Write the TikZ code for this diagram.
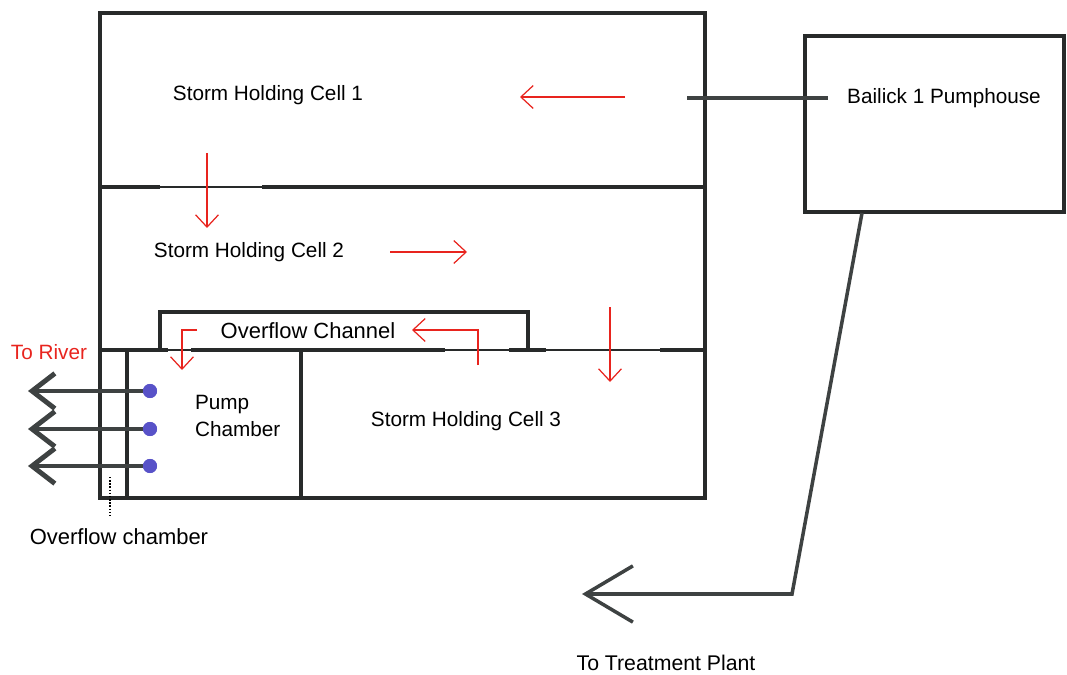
\documentclass[tikz,border=0pt]{standalone}
\usepackage{fontspec}
\setmainfont{Liberation Sans}
\usepackage{tikz}
\usetikzlibrary{arrows.meta, positioning}
\definecolor{wallgray}{RGB}{40,42,42}
\definecolor{pipegray}{RGB}{62,66,66}
\definecolor{flowred}{RGB}{232,36,30}
\definecolor{pumpblue}{RGB}{88,82,200}
\tikzset{
  wall/.style={line width=2.2pt, draw=wallgray},
  weir/.style={line width=0.8pt, draw=wallgray},
  sill/.style={line width=2.8pt, draw=wallgray},
  pipe/.style={line width=2.8pt, draw=pipegray},
  flow/.style={-{Straight Barb[length=7pt, width=13pt]}, line width=0.7pt, draw=flowred},
  outfall/.style={-{Straight Barb[length=13pt, width=20pt]}, line width=2.8pt, draw=pipegray},
  transfer/.style={-{Straight Barb[length=27pt, width=32pt]}, line width=2pt, draw=pipegray},
  txt/.style={font=\fontsize{11.8}{15.3}\selectfont, text=black, inner sep=1pt},
  bigtxt/.style={txt, font=\fontsize{12.5}{15.3}\selectfont},
  pump/.style={circle, fill=pumpblue, minimum size=8pt, inner sep=0pt},
}

\begin{document}
\begin{tikzpicture}[x=0.02cm, y=-0.02cm]
  \useasboundingbox (0,0) rectangle (1067,675);

  % tank walls
  \draw[wall] (100,13) rectangle (705,498);
  \draw[sill] (100,187) -- (160,187);
  \draw[weir] (160,187) -- (262,187);
  \draw[sill] (262,187) -- (705,187);
  \draw[sill] (100,350) -- (168,350);
  \draw[weir] (168,350) -- (191,350);
  \draw[sill] (191,350) -- (445,350);
  \draw[weir] (445,350) -- (509,350);
  \draw[sill] (509,350) -- (546,350);
  \draw[weir] (546,350) -- (660,350);
  \draw[sill] (660,350) -- (705,350);
  \draw[wall] (160,350) |- (528,312) -- (528,350);
  \draw[wall] (127,350) -- (127,498);
  \draw[wall] (301,350) -- (301,498);

  % pumphouse and rising main
  \draw[wall] (805,36) rectangle (1064,212);
  \draw[pipe] (687,98) -- (828,98);
  \node[txt] (pumphouse) at (944,98) {Bailick 1 Pumphouse};

  % cell labels
  \node[txt] (cellone) at (268,95) {Storm Holding Cell 1};
  \node[txt] (celltwo) at (249,252) {Storm Holding Cell 2};
  \node[txt] (cellthree) at (466,421) {Storm Holding Cell 3};
  \node[bigtxt] (channel) at (308,331) {Overflow Channel};
  \node[txt, align=left, anchor=west] (chamber) at (193,416) {Pump\\Chamber};

  % flow directions
  \draw[flow] (625,97) -- (520,97);
  \draw[flow] (207,153) -- (207,228);
  \draw[flow] (390,252) -- (467,252);
  \draw[flow] (478,365) -- (478,330) -- (412,330);
  \draw[flow] (197,330) -- (182,330) -- (182,370);
  \draw[flow] (610,307) -- (610,382);

  % pumps to river
  \foreach \y [count=\i] in {391,429,466} {
    \coordinate (river\i) at (28,\y);
    \node[pump] (pump\i) at (150,\y) {};
    \draw[outfall] (pump\i.west) -- (river\i);
    \node[pump] at (pump\i) {};
  }
  \node[txt, text=flowred] (river) at (49,352) {To River};

  % overflow chamber
  \coordinate (ovtop) at (110,477);
  \coordinate (ovend) at (110,518);
  \draw[densely dotted, line width=0.8pt] (ovtop) -- (ovend);
  \node[bigtxt] (ovlabel) at (119,537) {Overflow chamber};

  % to treatment
  \coordinate (mainout) at (862,213);
  \coordinate (bend) at (792,594);
  \coordinate (plant) at (582,594);
  \draw[transfer] (mainout) -- (bend) -- (plant);
  \node[txt, font=\fontsize{12.1}{15}\selectfont] (plantlabel) at (666,663) {To Treatment Plant};
\end{tikzpicture}
\end{document}
